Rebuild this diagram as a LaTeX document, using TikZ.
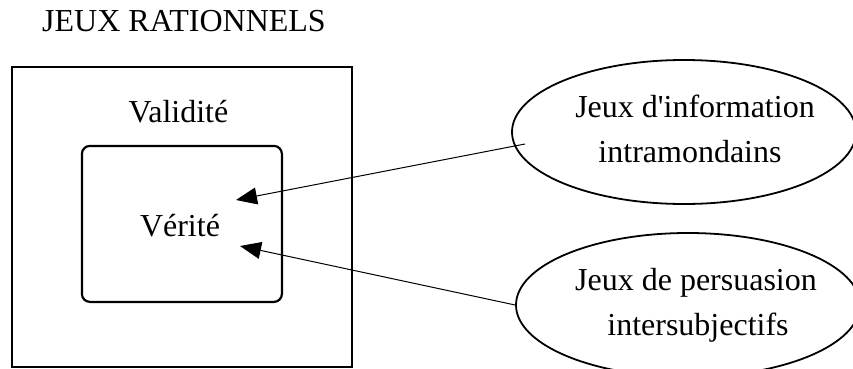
\documentclass[tikz,border=0pt]{standalone}
\usepackage{fontspec}
\setmainfont{Liberation Serif}
\usetikzlibrary{arrows.meta,shapes.geometric}
\begin{document}
\begin{tikzpicture}[x=1pt,y=-1pt,
  lbl/.style={font=\fontsize{32}{38}\selectfont, anchor=base, inner sep=0pt},
  frame/.style={draw, line width=2.2pt, inner sep=0pt},
  bubble/.style={draw, ellipse, line width=1.8pt, inner sep=0pt,
                 minimum width=344pt, minimum height=144pt},
  link/.style={line width=1pt, -{Triangle[length=21pt,width=17pt]}}]
\clip (0,0) rectangle (853,369);
\useasboundingbox (0,0) rectangle (853,369);

% heading
\node[lbl] (title) at (184,32) {JEUX RATIONNELS};

% nested boxes
\node[frame, minimum width=340pt, minimum height=300pt] (outer) at (182,217.3) {};
\node[frame, rounded corners=8pt, minimum width=200pt, minimum height=156pt] (inner) at (181.9,223.9) {};
\node[lbl] (valid) at (178.5,122) {Validité};
\node[lbl] (verite) at (180,236.7) {Vérité};

% language games
\node[bubble] (info) at (684,132) {};
\node[lbl] (info1) at (695,117.3) {Jeux d\textquotesingle information};
\node[lbl] (info2) at (690,162.7) {intramondains};

\node[bubble] (pers) at (688,305) {};
\node[lbl] (pers1) at (696,290) {Jeux de persuasion};
\node[lbl] (pers2) at (698,335) {intersubjectifs};

% connectors into the truth box
\coordinate (infoTail) at (525,144);
\coordinate (tipA) at (236,200);
\coordinate (tipB) at (240,246);
\draw[link] (infoTail) -- (tipA);
\draw[link] (pers.west) -- (tipB);
\end{tikzpicture}
\end{document}
